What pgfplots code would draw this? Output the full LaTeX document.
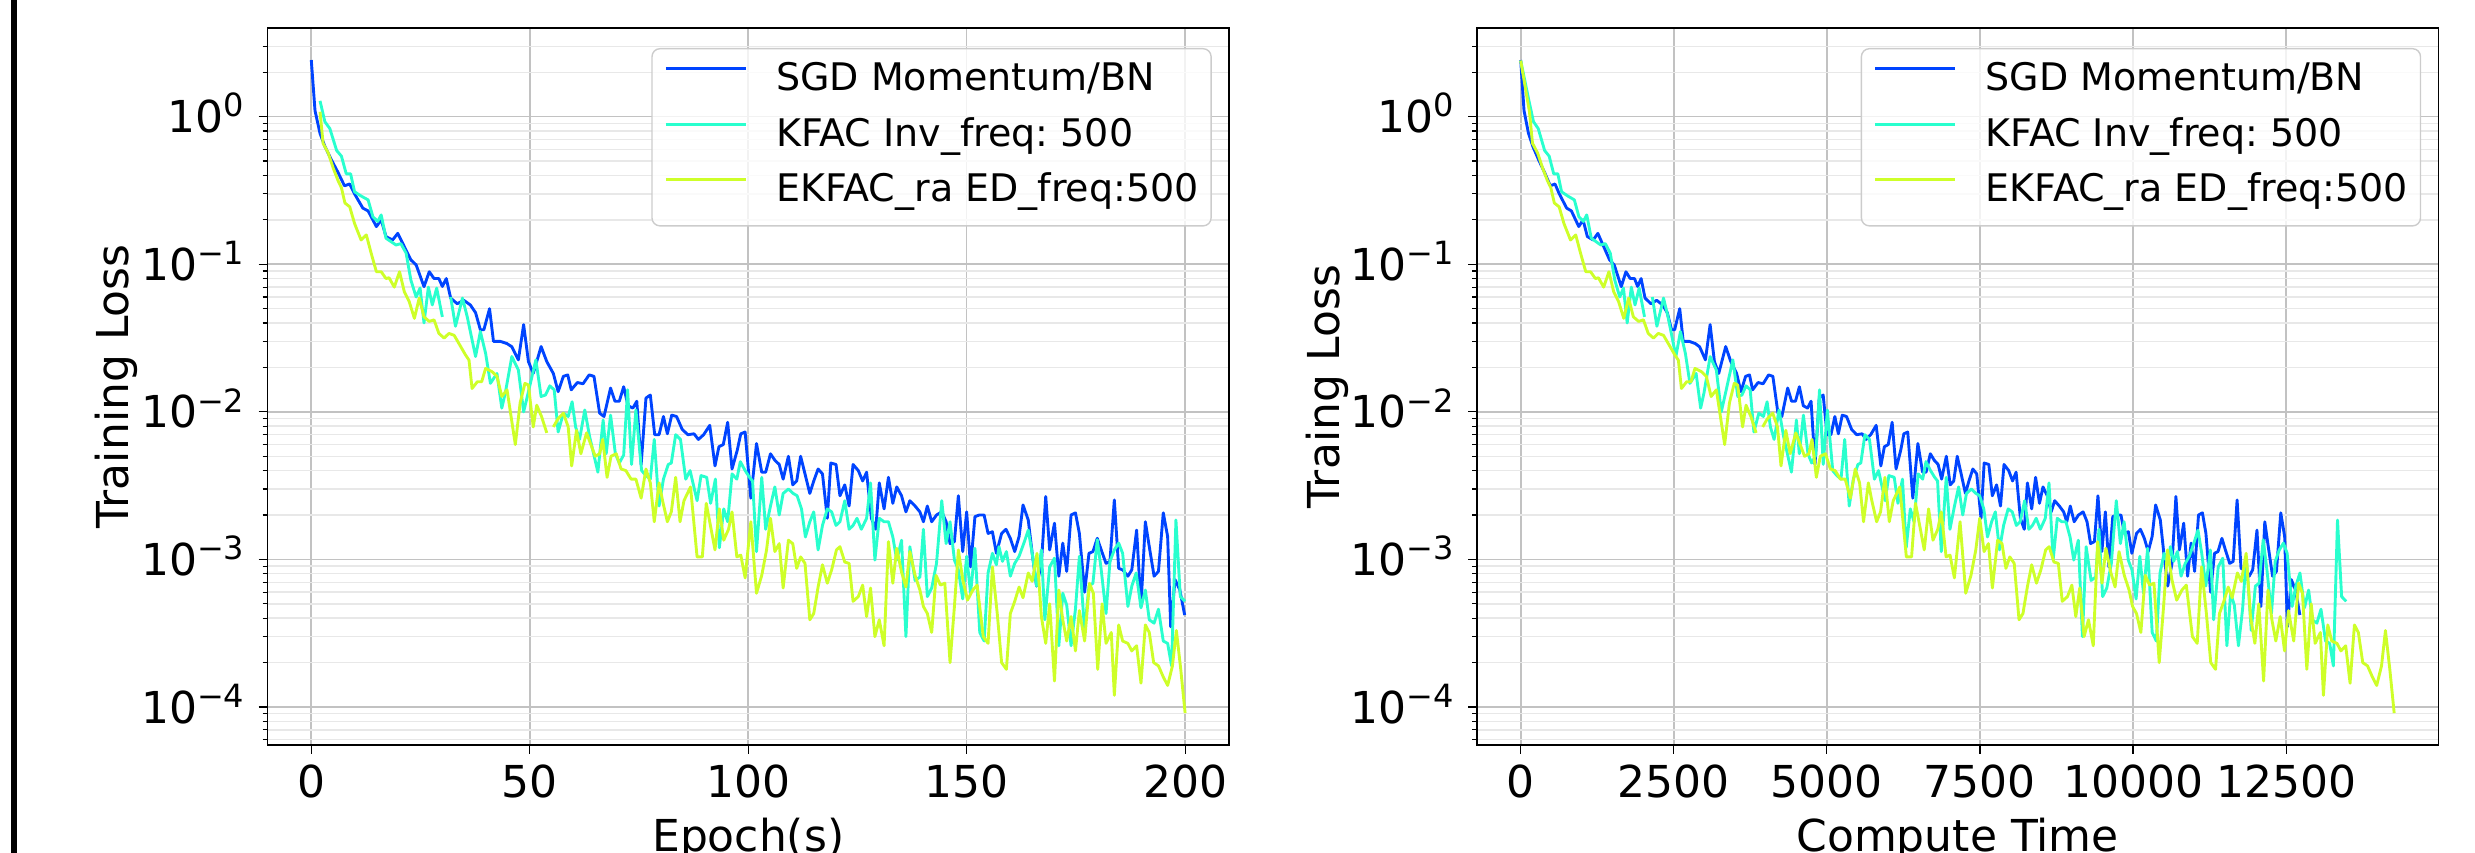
\documentclass[border=0pt]{standalone}
\usepackage{fontspec}
\setmainfont{DejaVu Sans}
\usepackage{pgfplots}
\usepackage{pgfplotstable}
\pgfplotsset{compat=1.18}
\frenchspacing
\definecolor{cSGD}{RGB}{0,68,255}
\definecolor{cKFAC}{RGB}{41,255,206}
\definecolor{cEKFAC}{RGB}{206,255,41}
\newcommand{\sups}[1]{\raisebox{0.36em}{\fontsize{8}{8}\selectfont #1}}

\pgfplotstableread{
e v
0 2.42
0.85 1.1
2 0.77
3.1 0.63
4.6 0.51
6.1 0.42
7.6 0.34
8.8 0.35
9.9 0.30
11.8 0.24
13 0.23
14.9 0.18
16 0.20
17.1 0.154
18.6 0.146
19.8 0.162
20.9 0.139
22.8 0.107
24 0.099
25.8 0.0705
27 0.089
28.1 0.080
29.2 0.080
30 0.0707
30.9 0.080
31.9 0.059
33.4 0.054
34.9 0.057
36.4 0.053
37.6 0.047
38.7 0.036
39.5 0.036
40.8 0.050
41.7 0.030
43.3 0.030
44.8 0.029
45.9 0.0276
47.4 0.0225
48.6 0.039
49.7 0.0219
50.8 0.0182
52.6 0.0277
53.9 0.0219
55.4 0.0182
56.5 0.0137
57.7 0.0174
58.7 0.0178
59.5 0.0141
60.9 0.0158
62.2 0.0155
63.6 0.0178
64.7 0.0174
66 0.0098
67 0.0093
68.5 0.0145
69.5 0.0118
70.5 0.0118
71.5 0.0148
72.5 0.0110
73.6 0.0106
74.5 0.0118
75.5 0.0044
76.6 0.0124
77.6 0.0130
78.6 0.0070
79.6 0.0070
80.6 0.0093
81.5 0.0071
82.5 0.0095
83.6 0.0093
84.9 0.0076
86.2 0.0070
87.6 0.0071
88.6 0.0065
89.8 0.0070
91.2 0.0081
92.4 0.0043
93.3 0.0058
94.3 0.0060
95.3 0.0085
96.3 0.0041
97.5 0.0055
98.3 0.0071
99.3 0.0073
100.6 0.0026
101.9 0.0061
103.1 0.0039
104 0.0039
105.1 0.0052
106.1 0.0047
107.1 0.0044
108 0.0035
109.2 0.0050
110.2 0.0032
111.1 0.0034
112 0.0050
113 0.0038
114.1 0.0028
115 0.0034
116 0.0041
117 0.0038
118.1 0.0019
118.9 0.0045
120.1 0.0044
121 0.0027
122.1 0.0032
123.1 0.0023
124 0.0044
125.2 0.0040
126.2 0.0034
127.1 0.0039
128.2 0.0019
129.2 0.0016
130 0.0033
131.1 0.0022
132.1 0.0036
133.1 0.0024
134 0.0031
135.1 0.0027
136.1 0.0021
137 0.0025
138.2 0.0023
139.3 0.0021
140.1 0.0018
141 0.0023
142 0.0018
143.1 0.0020
144.3 0.0021
145.3 0.0018
146.2 0.00128
147.2 0.00132
148.1 0.0027
149.1 0.00113
150 0.0021
150.9 0.00089
151.9 0.00195
152.9 0.0020
154 0.0020
154.9 0.0015
155.9 0.00154
156.8 0.0011
158 0.0015
159 0.0016
160 0.00139
161 0.00113
162 0.00143
162.9 0.00234
164.1 0.00185
165 0.0011
166 0.00066
167.1 0.00094
168.1 0.00267
169 0.00116
170.1 0.00176
171.1 0.00077
172 0.00129
172.9 0.00083
173.9 0.0020
174.9 0.00207
175.8 0.0015
177 0.0006
178 0.0011
178.9 0.00113
179.9 0.00139
180.8 0.00116
181.9 0.00094
182.8 0.00097
183.8 0.00253
184.8 0.00087
185.7 0.00085
186.9 0.00077
187.8 0.00085
188.9 0.00158
189.9 0.00048
190.9 0.0018
191.8 0.00122
192.9 0.00077
193.9 0.00083
195 0.00207
196 0.00143
196.7 0.00035
197.7 0.00073
198.8 0.00062
199.9 0.00042
}\sgd

\pgfplotstableread{
e v
0 2.4
2 1.28
3.1 0.925
4.25 0.83
5.8 0.59
6.9 0.54
8 0.41
9 0.41
9.9 0.31
11.4 0.29
13 0.273
14.1 0.21
15.2 0.195
16 0.216
17.1 0.15
18.3 0.142
19.4 0.135
20.5 0.138
21.7 0.119
22.8 0.078
24 0.060
24.9 0.069
25.8 0.040
26.8 0.070
27.7 0.053
28.7 0.069
30 0.044
31 nan
31.9 0.060
33 0.038
34.6 0.059
35.7 0.044
37.6 0.0237
38.7 0.035
39.9 0.0249
41 0.0156
42.5 0.0182
43.6 0.0106
44.4 0.0134
45.9 0.0237
47.4 0.0192
48.6 0.010
49.7 0.0137
51.4 0.0225
52.6 0.0127
53.6 0.013
54.6 0.015
55.6 0.0141
56.5 0.0073
57.7 0.0098
58.8 0.0093
59.7 0.0117
60.5 0.0079
61.4 0.0065
62.6 0.0103
63.7 0.0068
65.6 0.0039
66.8 0.0088
67.5 0.0052
68.5 0.0095
69.6 0.0052
70.5 0.0045
71.5 0.0051
72.4 0.0141
73.3 0.0044
74.3 0.0103
75.6 0.0040
76.6 0.0037
77.6 0.0035
78.5 0.0065
79.6 0.0023
80.6 0.0035
81.7 0.0044
82.4 0.0045
83.4 0.0070
84.5 0.0065
85.7 0.0035
86.7 0.0040
88.3 0.0025
89.2 0.0037
90.5 0.0036
91.4 0.0024
92.5 0.0035
93.4 0.0012
94.4 0.0022
95.3 0.0018
96.3 0.0038
97.4 0.0035
98.2 0.0046
99.3 0.0040
100.3 0.0036
101 0.0034
101.9 0.00113
103.1 0.0036
104 0.0016
105.1 0.0023
106.1 0.0031
107.1 0.0020
108 0.0028
109.2 0.0030
110.3 0.0028
111.2 0.0027
112.2 0.0022
113.1 0.00142
114.1 0.0018
115 0.0021
116 0.00116
117 0.0017
118.1 0.0022
119.1 0.0021
120.1 0.0017
121 0.0018
122.1 0.0025
123.1 0.0016
124 0.0017
124.9 0.0019
125.9 0.0016
127.1 0.0019
128 0.0033
129 0.00099
130 0.0019
131.1 0.0018
132.1 0.0018
133.1 0.00142
134 0.00099
135.1 0.00135
136.1 0.0003
137 0.00122
138.2 0.00072
139.3 0.00076
140.1 0.0016
141 0.00056
142 0.00064
143.1 0.00094
144.3 0.0025
145.3 0.00128
146.2 0.0018
147.2 0.00099
148.1 0.00085
149.1 0.00054
150 0.00105
150.9 0.00059
151.9 0.00119
153 0.00032
154 0.00028
154.9 0.00081
155.9 0.0011
156.8 0.00092
157.4 0.00122
158.2 0.00097
159.1 0.00113
160 0.00077
161 0.00094
162 0.00105
163.1 0.00129
164.1 0.00158
165 0.0011
166 0.00066
167.1 0.00116
167.9 0.00039
169 0.00089
170.1 0.00102
171.1 0.00026
172 0.00059
172.9 0.00049
173.9 0.00026
174.9 0.00046
175.8 0.00105
177 0.00033
178 0.00066
178.9 0.00069
179.9 0.00136
180.8 0.00085
181.9 0.00043
182.8 0.00097
183.8 0.00116
184.8 0.00129
185.7 0.0011
186.9 0.00048
187.8 0.00066
188.8 0.00081
189.9 0.00047
190.9 0.00062
191.8 0.00039
192.9 0.00037
193.9 0.00046
195 0.00028
196 0.00027
196.9 0.00019
197.9 0.00185
198.9 0.00056
200 0.00052
}\kfac

\pgfplotstableread{
e v
0 2.4
2 1.08
2.7 0.66
3.9 0.565
5 0.45
6.1 0.37
6.9 0.33
7.7 0.26
8.8 0.245
9.9 0.189
11.4 0.146
12.6 0.158
13.7 0.119
14.9 0.089
16 0.089
17.1 0.080
17.8 0.081
19 0.070
20.2 0.089
21.3 0.065
22.4 0.056
23.6 0.043
24.7 0.059
25.8 0.044
27 0.041
28.1 0.042
29.2 0.034
30.4 0.0316
31.5 0.034
32.7 0.033
33.8 0.029
35.3 0.0243
36.1 0.0224
36.8 0.0144
38 0.016
39 0.016
39.9 0.0197
41.4 0.0187
42.5 0.0174
43.6 0.0127
44.8 0.0141
46.7 0.006
47.8 0.0115
48.9 0.0156
49.7 0.0152
50.8 0.0079
51.6 0.0111
52.7 0.0093
53.9 0.0072
54.6 nan
55.4 0.0079
56.5 0.009
57.7 0.0098
58.8 0.0079
59.6 0.0043
60.7 0.0075
61.7 0.0052
63 0.0072
63.9 0.0061
65 0.0050
66 0.0052
66.7 0.0065
67.7 0.0036
68.6 0.0050
69.8 0.0052
70.9 0.0041
72 0.0040
73.2 0.0035
74.3 0.0035
75.5 0.0026
76.6 0.0041
77.6 0.0033
78.5 0.0018
79.6 0.0033
80.4 0.0025
81.5 0.0018
82.4 0.0021
83.4 0.0036
84.4 0.0018
85.3 0.0025
86.8 0.0031
88.3 0.00104
89.5 0.00104
90.4 0.0024
91.4 0.00167
92.4 0.00116
93.4 0.0022
94.4 0.00135
95.5 0.0016
96.3 0.0021
97.4 0.00104
98.3 0.00107
99.3 0.00075
100.6 0.0018
101.9 0.00059
103.1 0.00078
104.2 0.00116
105.1 0.0019
106.1 0.00113
107.1 0.00128
108 0.00064
109.2 0.00135
110.2 0.00128
111.1 0.00087
112 0.00104
113 0.00094
114.1 0.00039
115 0.00043
116 0.00065
117 0.00092
118.1 0.00069
119.1 0.00085
120.2 0.00116
121 0.00122
122.1 0.00096
123.1 0.00094
124 0.00052
125.2 0.00056
126.2 0.00067
127.1 0.00041
128 0.00064
129 0.0003
130 0.00039
131.1 0.00026
132.1 0.00132
133.1 0.00069
134 0.00119
135.1 0.00082
136.1 0.00065
137 0.00113
138.2 0.00078
139.3 0.00062
140.1 0.00048
141 0.00043
142 0.00032
143 0.00078
144 0.00067
145 0.00069
146.2 0.0002
147.2 0.00048
148.1 0.00116
149.1 0.00073
150.2 0.00053
151.4 0.00062
152.4 0.00067
153.8 0.0003
154.9 0.00027
155.9 0.00089
157 0.00043
158 0.0002
159.1 0.00018
160 0.00043
161 0.00052
162 0.00065
162.9 0.00055
164.1 0.00081
165 0.00071
166.1 0.0011
167.1 0.00041
168.1 0.00027
169 0.0005
170.1 0.00015
171.1 0.00062
172 0.00039
172.9 0.00028
173.9 0.00041
174.9 0.00024
175.8 0.00045
177 0.00028
178.1 0.00069
179 0.00059
180 0.00018
181 0.0005
181.9 0.00027
183.1 0.00032
183.8 0.00012
184.8 0.00036
185.7 0.00028
186.9 0.00027
187.8 0.00024
188.9 0.00026
189.9 0.000145
190.9 0.00036
191.8 0.00032
192.8 0.0002
193.9 0.00019
195 0.00016
196 0.00014
197.1 0.00019
198 0.00033
199 0.00018
200 0.000091
}\ekfac

\pgfplotsset{
  every axis/.append style={
    scale only axis, width=240.3pt, height=179.25pt,
    grid=both,
    major grid style={black!24, line width=0.4pt},
    minor grid style={black!9, line width=0.35pt},
    tick align=outside, tick pos=left,
    major tick length=2.25pt, minor tick length=1.25pt,
    tick style={black, line width=0.3pt},
    axis line style={line width=0.35pt},
    tick label style={font=\fontsize{11}{13}\selectfont},
    yticklabel style={anchor=base east, inner sep=0pt, xshift=-3.4pt, yshift=-4pt},
    xticklabel style={anchor=base, inner sep=0pt, yshift=-11pt},
    label style={font=\fontsize{11}{13}\selectfont, inner sep=0pt},
    xlabel style={at={(axis description cs:0.5,-0.148)}, anchor=base},
    legend cell align=left,
    legend style={at={(1,1)}, anchor=north east, xshift=-4.25pt, yshift=-5pt,
      draw=black!20, line width=0.35pt, rounded corners=2pt, fill=white,
      fill opacity=0.8, text opacity=1, draw opacity=1,
      font=\fontsize{9.5}{11}\selectfont\frenchspacing,
      inner xsep=3.1pt, inner ysep=3.5pt, row sep=4.4pt, column sep=7.25pt,
      nodes={inner sep=0pt, text height=7pt, text depth=2.5pt}},
  },
  every axis plot/.append style={line width=0.72pt, line join=round},
}

\begin{document}
\begin{tikzpicture}
\useasboundingbox (0pt,0pt) rectangle (618.75pt,213.25pt);
\fill[black] (2.75pt,0pt) rectangle (4.33pt,213.25pt);

\begin{axis}[at={(66.9pt,27pt)}, anchor=south west,
  ymode=log, ymin=5.53e-5, ymax=3.99,
  ytick={1e-4,1e-3,1e-2,1e-1,1},
  yticklabels={10\sups{−4},10\sups{−3},10\sups{−2},10\sups{−1},10\sups{0}},
  minor ytick={6e-5,7e-5,8e-5,9e-5,2e-4,3e-4,4e-4,5e-4,6e-4,7e-4,8e-4,9e-4,2e-3,3e-3,4e-3,5e-3,6e-3,7e-3,8e-3,9e-3,2e-2,3e-2,4e-2,5e-2,6e-2,7e-2,8e-2,9e-2,0.2,0.3,0.4,0.5,0.6,0.7,0.8,0.9,2,3},
  unbounded coords=jump,
  legend image code/.code={\draw[#1, line width=0.72pt] (0pt,3.3pt) -- (20pt,3.3pt);},
  xmin=-10, xmax=210,
  xtick={0,50,100,150,200},
  xticklabels={0,50,100,150,200},
  xlabel={Epoch(s)},
  ylabel={Training Loss},
  ylabel style={at={(axis description cs:-0.1449,0.5)}, anchor=base},
]
\addplot[cSGD] table[x=e,y=v] {\sgd};
\addlegendentry{SGD Momentum/BN}
\addplot[cKFAC, skip coords between index={0}{1}] table[x=e,y=v] {\kfac};
\addlegendentry{KFAC Inv\_freq: 500}
\addplot[cEKFAC, skip coords between index={0}{1}] table[x=e,y=v] {\ekfac};
\addlegendentry{EKFAC\_ra ED\_freq:500}
\end{axis}

\begin{axis}[at={(369.25pt,27pt)}, anchor=south west,
  ymode=log, ymin=5.53e-5, ymax=3.99,
  ytick={1e-4,1e-3,1e-2,1e-1,1},
  yticklabels={10\sups{−4},10\sups{−3},10\sups{−2},10\sups{−1},10\sups{0}},
  minor ytick={6e-5,7e-5,8e-5,9e-5,2e-4,3e-4,4e-4,5e-4,6e-4,7e-4,8e-4,9e-4,2e-3,3e-3,4e-3,5e-3,6e-3,7e-3,8e-3,9e-3,2e-2,3e-2,4e-2,5e-2,6e-2,7e-2,8e-2,9e-2,0.2,0.3,0.4,0.5,0.6,0.7,0.8,0.9,2,3},
  unbounded coords=jump,
  legend image code/.code={\draw[#1, line width=0.72pt] (0pt,3.3pt) -- (20pt,3.3pt);},
  xmin=-713.5, xmax=14983,
  xtick={0,2500,5000,7500,10000,12500},
  xticklabels={0,2500,5000,7500,10000,12500},
  xlabel={Compute Time},
  ylabel={Traing Loss},
  ylabel style={at={(axis description cs:-0.1426,0.5)}, anchor=base},
]
\addplot[cSGD] table[x expr=\thisrow{e}*63.65,y=v] {\sgd};
\addlegendentry{SGD Momentum/BN}
\addplot[cKFAC] table[x expr=\thisrow{e}*67.4,y=v] {\kfac};
\addlegendentry{KFAC Inv\_freq: 500}
\addplot[cEKFAC] table[x expr=\thisrow{e}*71.32,y=v] {\ekfac};
\addlegendentry{EKFAC\_ra ED\_freq:500}
\end{axis}
\end{tikzpicture}
\end{document}
